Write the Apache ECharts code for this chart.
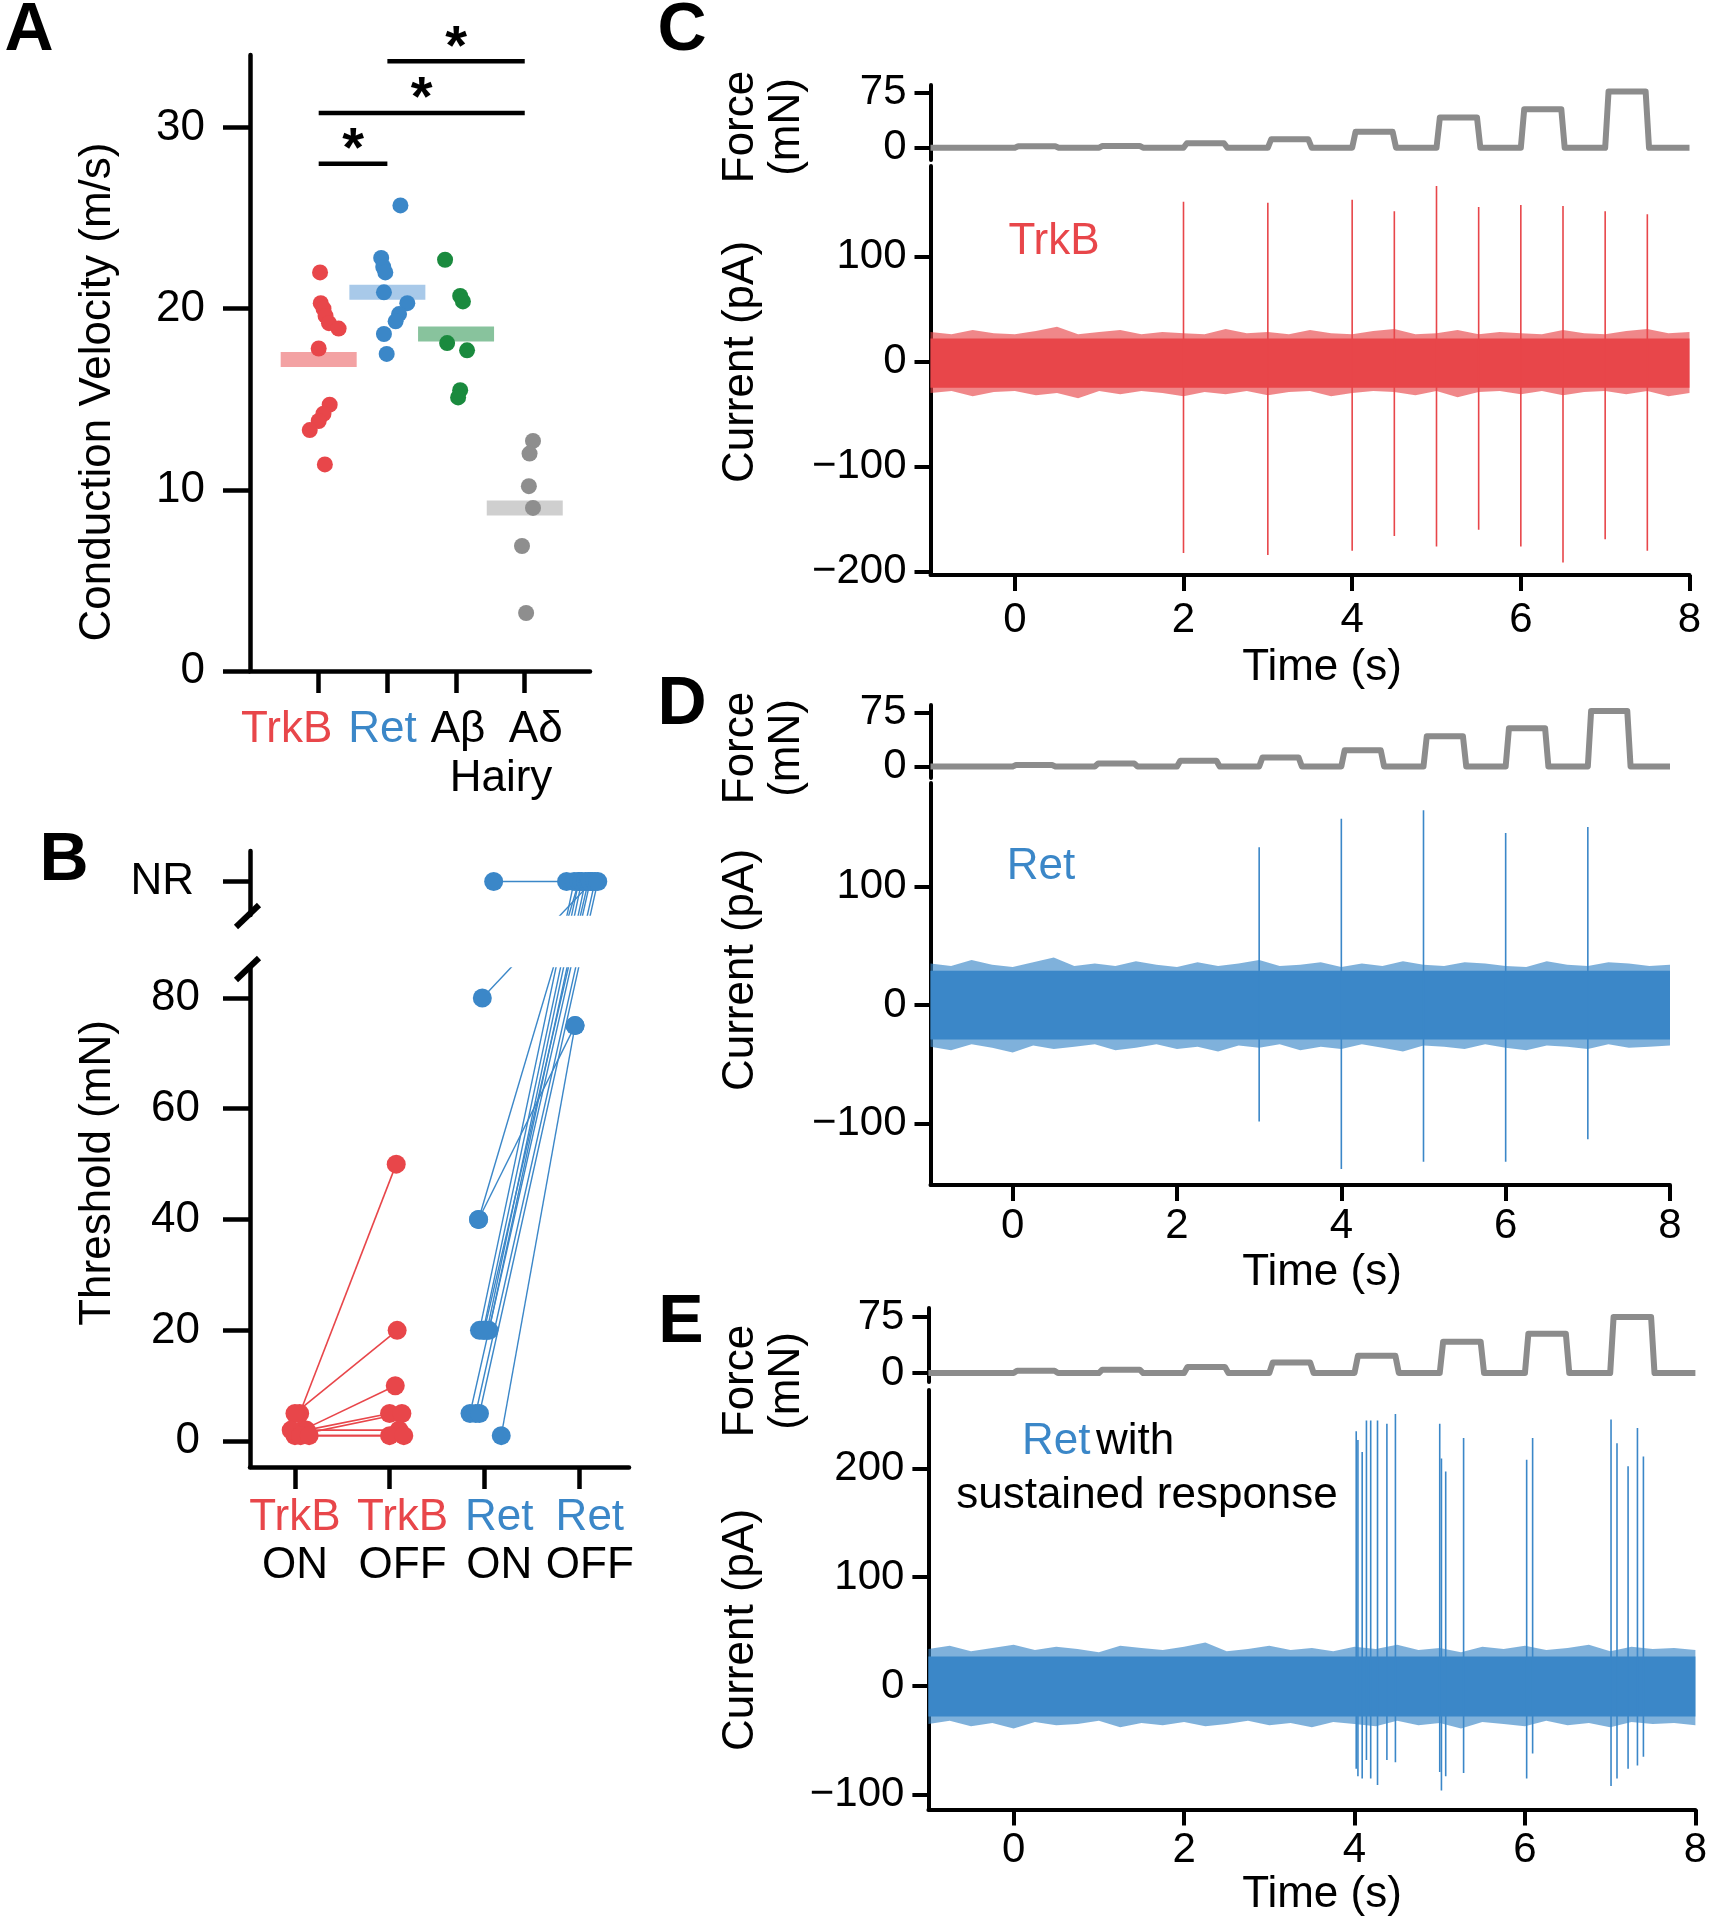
<!DOCTYPE html>
<html><head><meta charset="utf-8">
<script src="https://cdn.jsdelivr.net/npm/echarts@6/dist/echarts.min.js"></script>
<style>html,body{margin:0;padding:0;background:#fff}#c{width:1709px;height:1920px}</style>
</head><body><div id="c"></div><script>
// ================= DATA =================
// Panel A: conduction velocity (m/s)
const groupsA = ['TrkB', 'Ret', 'Aβ', 'Aδ'];
const cvTrkB = [22.0, 20.3, 20.0, 19.6, 19.2, 18.9, 17.8, 14.7, 14.2, 13.8, 13.3, 11.4];
const cvTrkBJit = [0.02, 0.03, 0.07, 0.10, 0.15, 0.29, 0.0, 0.16, 0.07, 0.0, -0.13, 0.09];
const cvRet = [25.7, 22.8, 22.3, 22.0, 20.9, 20.3, 19.7, 19.3, 18.6, 17.5];
const cvRetJit = [0.19, -0.09, -0.06, -0.03, -0.05, 0.29, 0.17, 0.12, -0.05, -0.01];
const cvAb = [22.7, 20.7, 20.4, 18.1, 17.7, 15.5, 15.1];
const cvAbJit = [-0.16, 0.06, 0.10, -0.13, 0.16, 0.06, 0.03];
const cvAd = [12.7, 12.0, 10.2, 9.0, 6.9, 3.2];
const cvAdJit = [0.12, 0.07, 0.06, 0.12, -0.04, 0.02];
const cvMeans = [17.2, 20.9, 18.6, 9.0];
const sigPairs = [[1, 2, 28.0], [1, 4, 30.8], [2, 4, 33.65]];
const cvTicks = [0, 10, 20, 30];

// Panel B: thresholds (mN); 'NR' = not responsive
const thrTop = ['TrkB', 'TrkB', 'Ret', 'Ret'];
const thrBot = ['ON', 'OFF', 'ON', 'OFF'];
const thrTicks = [0, 20, 40, 60, 80];
const NR = 101;
const trkbOn  = [5, 5, 2, 2, 1, 2, 1, 1];
const trkbOff = [50, 20, 10, 5, 5, 2, 1, 1];
const trkbOnJit  = [0.05, 0.0, 0.08, 0.12, 0.0, -0.04, 0.06, 0.15];
const trkbOffJit = [0.07, 0.08, 0.06, 0.0, 0.13, 0.1, 0.0, 0.15];
const retOn  = ['NR', 80, 40, 40, 1, 20, 20, 20, 20, 20, 5, 5, 5];
const retOff = ['NR', 'NR', 'NR', 75, 75, 'NR', 'NR', 'NR', 'NR', 'NR', 'NR', 'NR', 'NR'];
const retOnJit  = [0.1, -0.02, -0.06, -0.06, 0.18, -0.05, -0.01, 0.03, 0.05, 0.0, -0.15, -0.09, -0.05];
const retOffJit = [-0.13, 0.14, 0.0, -0.04, -0.04, -0.05, 0.0, 0.03, 0.07, 0.1, 0.12, 0.17, 0.2];

// Panels C-E: recordings
const tTicks = [0, 2, 4, 6, 8];
const stepOnsets = [0, 1, 2, 3, 4, 5, 6, 7];
const STEP_DUR = 0.48, RAMP = 0.04;
const forceC = [2, 2.5, 6, 11.5, 21.5, 41, 52, 76];
const forceD = [2, 4, 8, 12.5, 22.5, 42, 53, 77];
const forceE = [3, 4.5, 8, 14, 23, 42, 52.5, 75];
// dense noise core (lower, upper) and outer noise fringe envelope (pA)
const coreC = [-25, 22];
const coreD = [-29, 29];
const coreE = [-28, 27];
const noiseT = [-1,-0.75,-0.5,-0.25,0,0.25,0.5,0.75,1,1.25,1.5,1.75,2,2.25,2.5,2.75,3,3.25,3.5,3.75,4,4.25,4.5,4.75,5,5.25,5.5,5.75,6,6.25,6.5,6.75,7,7.25,7.5,7.75,8];
const upC = [28,26,30,27,26,29,33,26,28,30,26,28,27,26,31,27,28,26,30,27,26,29,31,26,27,30,26,28,27,26,30,27,26,29,31,27,28];
const loC = [-30,-28,-33,-29,-28,-32,-30,-35,-28,-31,-28,-30,-33,-29,-31,-28,-32,-29,-28,-33,-30,-28,-29,-32,-28,-34,-29,-28,-31,-28,-32,-29,-28,-31,-28,-33,-30];
const upD = [35,33,38,34,32,36,40,33,35,33,37,34,32,36,33,35,38,33,34,36,32,35,33,37,34,33,36,35,33,32,37,34,33,36,35,33,34];
const loD = [-35,-38,-33,-36,-40,-34,-37,-35,-33,-38,-36,-33,-37,-35,-39,-34,-36,-33,-38,-35,-37,-33,-36,-39,-34,-35,-37,-33,-36,-38,-34,-35,-37,-33,-36,-35,-34];
const upE = [34,37,32,35,38,33,36,34,31,37,35,33,36,40,32,34,37,33,35,32,36,34,38,33,35,31,36,34,37,33,35,38,32,36,34,35,33];
const loE = [-35,-32,-37,-34,-39,-33,-36,-35,-32,-38,-34,-36,-33,-37,-35,-32,-36,-34,-38,-33,-35,-37,-32,-36,-34,-39,-33,-35,-37,-32,-36,-34,-38,-33,-35,-34,-36];
const spkTC  = [2.0, 3.0, 4.0, 4.5, 5.0, 5.5, 6.0, 6.5, 7.0, 7.5];
const spkUpC = [152, 151, 154, 143, 167, 147, 149, 148, 143, 140];
const spkDnC = [-182, -184, -180, -166, -176, -160, -176, -191, -169, -180];
const spkTD  = [3.0, 4.0, 5.0, 6.0, 7.0];
const spkUpD = [133, 157, 164, 145, 150];
const spkDnD = [-98, -138, -132, -132, -113];
const spkTE  = [4.02, 4.04, 4.09, 4.14, 4.19, 4.27, 4.38, 4.48, 5.00, 5.02, 5.07, 5.28, 6.02, 6.09, 7.01, 7.08, 7.21, 7.32, 7.39];
const spkUpE = [234, 226, 215, 244, 244, 244, 241, 250, 241, 209, 197, 228, 208, 228, 245, 223, 202, 237, 211];
const spkDnE = [-76, -83, -85, -68, -85, -91, -68, -70, -79, -96, -83, -80, -85, -62, -92, -85, -76, -73, -65];

// ================= STYLE =================
const FONT = 'Liberation Sans, Arial, Helvetica, sans-serif';
const RED = '#e8464a', BLUE = '#3b87c8', GREEN = '#1a8a3e', GRAY = '#8e8e8e', FORCE = '#8c8c8c';
const meanColors = ['#f3a2a3', '#a8c9e9', '#88c39d', '#cfcfcf'];
const mm = v => String(v).replace('-', '\u2212');

const grids = [
  {left: 250, top: 55, width: 340, height: 616},      // 0 A
  {left: 250, top: 968, width: 379, height: 499},     // 1 B lower
  {left: 250, top: 851, width: 379, height: 64},      // 2 B upper (NR)
  {left: 930.5, top: 85, width: 759, height: 75},     // 3 C force
  {left: 930.5, top: 166, width: 759, height: 409},   // 4 C current
  {left: 930.5, top: 705, width: 739.5, height: 73},  // 5 D force
  {left: 930.5, top: 783, width: 739.5, height: 402}, // 6 D current
  {left: 928.4, top: 1308, width: 767, height: 74},   // 7 E force
  {left: 928.4, top: 1390, width: 767, height: 419.4} // 8 E current
].map(g => Object.assign({containLabel: false, outerBoundsMode: 'none'}, g));

function axis(grid, min, max, o) {
  o = o || {};
  const w = o.w || 4;
  return {
    type: 'value', gridIndex: grid, min: min, max: max, show: o.hidden ? false : true,
    axisLine: {show: true, onZero: false, lineStyle: {color: '#000', width: w}},
    axisTick: {show: !!o.ticks, customValues: o.ticks || [], length: o.tl || 16, inside: false, lineStyle: {color: '#000', width: w}},
    axisLabel: {show: !!o.ticks && !o.noLabel, customValues: o.ticks || [], margin: o.m || 24, fontSize: o.fs || 42, fontFamily: FONT, color: '#000',
      showMinLabel: true, showMaxLabel: true, hideOverlap: false,
      formatter: o.fmt || (v => mm(v))},
    splitLine: {show: false}
  };
}

const xAxis = [
  axis(0, 0, 4.95, {ticks: [1, 2, 3, 4], w: 4.5, tl: 22, noLabel: true}),
  axis(1, 0.525, 4.53, {ticks: [1, 2, 3, 4], w: 4.5, tl: 22, noLabel: true}),
  axis(2, 0.525, 4.53, {hidden: true}),
  axis(3, -1, 8, {hidden: true}),
  axis(4, -1, 8, {ticks: tTicks, m: 24}),
  axis(5, -1, 8, {hidden: true}),
  axis(6, -1, 8, {ticks: tTicks, m: 20}),
  axis(7, -1, 8, {hidden: true}),
  axis(8, -1, 8, {ticks: tTicks, m: 20})
];
const yAxis = [
  axis(0, 0, 34, {ticks: cvTicks, w: 4.5, tl: 27, m: 45, fs: 44}),
  axis(1, -4.66, 85.4, {ticks: thrTicks, w: 4.5, tl: 27, m: 50, fs: 44}),
  axis(2, 94.95, 106.5, {ticks: [NR], w: 4.5, tl: 27, m: 56, fs: 44, fmt: () => 'NR'}),
  axis(3, -16.6, 84.9, {ticks: [0, 75]}),
  axis(4, -203, 186, {ticks: [-200, -100, 0, 100]}),
  axis(5, -16.1, 85.4, {ticks: [0, 75]}),
  axis(6, -151.5, 187, {ticks: [-100, 0, 100]}),
  axis(7, -12, 87, {ticks: [0, 75]}),
  axis(8, -113.4, 272, {ticks: [-100, 0, 100, 200]})
];

const CLEAR = {color: 'rgba(0,0,0,0)', opacity: 1};
const series = [];
// ---- Panel A ----
series.push({type: 'scatter', xAxisIndex: 0, yAxisIndex: 0, symbol: 'rect', symbolSize: [76, 15], z: 1, silent: true,
  data: cvMeans.map((m, i) => ({value: [i + 1, m], itemStyle: {color: meanColors[i], opacity: 1}}))});
[[cvTrkB, cvTrkBJit, RED], [cvRet, cvRetJit, BLUE], [cvAb, cvAbJit, GREEN], [cvAd, cvAdJit, GRAY]].forEach(([vals, jit, col], g) => {
  series.push({type: 'scatter', xAxisIndex: 0, yAxisIndex: 0, symbolSize: 16, z: 3, silent: true,
    itemStyle: {color: col, opacity: 1}, data: vals.map((v, i) => [g + 1 + jit[i], v])});
});
sigPairs.forEach(([a, b, h]) => {
  series.push({type: 'line', xAxisIndex: 0, yAxisIndex: 0, data: [[a, h], [b, h]], symbol: 'none', clip: false, silent: true,
    lineStyle: {color: '#000', width: 4.5}});
  series.push({type: 'scatter', xAxisIndex: 0, yAxisIndex: 0, data: [[(a + b) / 2, h]], symbolSize: 1, clip: false, silent: true,
    itemStyle: CLEAR,
    label: {show: true, formatter: '*', position: 'inside', offset: [0, -13], fontSize: 56, fontWeight: 'bold', color: '#000', fontFamily: FONT}});
});
// category labels of A (placed on the axis through the scale)
const aLabCol = [RED, BLUE, '#000', '#000'];
const aLabShift = [-32, -5, 2, 11];
series.push({type: 'scatter', xAxisIndex: 0, yAxisIndex: 0, symbolSize: 0, clip: false, silent: true, z: 5,
  itemStyle: CLEAR,
  data: groupsA.map((g, i) => ({value: [i + 1, 0],
    label: {show: true, position: 'bottom', distance: 37, offset: [aLabShift[i], 0], formatter: g, color: aLabCol[i],
      fontSize: 44, fontFamily: FONT, lineHeight: 44, opacity: 1}}))});

// ---- Panel B ----
const toY = v => v === 'NR' ? NR : v;
function seg(grid, x1, y1, x2, y2, col, w) {
  return {type: 'line', xAxisIndex: grid, yAxisIndex: grid, data: [[x1, y1], [x2, y2]], symbol: 'none', clip: true, silent: true, z: 2,
    lineStyle: {color: col, width: w}};
}
trkbOn.forEach((on, i) => series.push(seg(1, 1 + trkbOnJit[i], on, 2 + trkbOffJit[i], trkbOff[i], RED, 1.6)));
retOn.forEach((on, i) => {
  const x1 = 3 + retOnJit[i], y1 = toY(on), x2 = 4 + retOffJit[i], y2 = toY(retOff[i]);
  series.push(seg(1, x1, y1, x2, y2, BLUE, 1.4));
  if (Math.max(y1, y2) > 94) series.push(seg(2, x1, y1, x2, y2, BLUE, 1.4));
});
const lowDots = (vals, jit, cat) => vals.map((v, i) => [cat + jit[i], toY(v)]).filter(p => p[1] < 90);
const nrDots = (vals, jit, cat) => vals.map((v, i) => [cat + jit[i], toY(v)]).filter(p => p[1] >= 90);
series.push({type: 'scatter', xAxisIndex: 1, yAxisIndex: 1, symbolSize: 19, z: 4, silent: true, itemStyle: {color: RED, opacity: 1},
  data: lowDots(trkbOn, trkbOnJit, 1).concat(lowDots(trkbOff, trkbOffJit, 2))});
series.push({type: 'scatter', xAxisIndex: 1, yAxisIndex: 1, symbolSize: 19, z: 4, silent: true, itemStyle: {color: BLUE, opacity: 1},
  data: lowDots(retOn, retOnJit, 3).concat(lowDots(retOff, retOffJit, 4))});
series.push({type: 'scatter', xAxisIndex: 2, yAxisIndex: 2, symbolSize: 19, z: 4, silent: true, itemStyle: {color: BLUE, opacity: 1},
  data: nrDots(retOn, retOnJit, 3).concat(nrDots(retOff, retOffJit, 4))});
// category labels of B
const bBase = {fontSize: 44, fontFamily: FONT, lineHeight: 48};
const bRich = {r: Object.assign({color: RED}, bBase), b: Object.assign({color: BLUE}, bBase), k: Object.assign({color: '#000'}, bBase)};
const thrCol = ['r', 'r', 'b', 'b'];
const thrLabShift = [0, 13, 15, 11];
series.push({type: 'scatter', xAxisIndex: 1, yAxisIndex: 1, symbolSize: 0, clip: false, silent: true, z: 5,
  itemStyle: CLEAR,
  data: thrTop.map((t, i) => ({value: [i + 1, -4.66],
    label: {show: true, position: 'bottom', distance: 27, offset: [thrLabShift[i], 0], rich: bRich, opacity: 1,
      formatter: '{' + thrCol[i] + '|' + t + '}\n{k|' + thrBot[i] + '}'}}))});

// ---- Panels C-E ----
function forcePts(amps) {
  const p = [[-1, 0]];
  stepOnsets.forEach((t, i) => { p.push([t, 0], [t + RAMP, amps[i]], [t + STEP_DUR, amps[i]], [t + STEP_DUR + RAMP, 0]); });
  p.push([8, 0]);
  return p;
}
function tracePanel(fg, cg, amps, core, up, lo, spT, spUp, spDn, col) {
  series.push({type: 'line', xAxisIndex: fg, yAxisIndex: fg, data: forcePts(amps), symbol: 'none', silent: true,
    lineStyle: {color: FORCE, width: 6, join: 'round', cap: 'butt'}});
  series.push({type: 'custom', xAxisIndex: cg, yAxisIndex: cg, silent: true, z: 2,
    data: noiseT.map((t, i) => [t, lo[i], up[i]]),
    renderItem: (params, api) => {
      if (params.dataIndex !== 0) return;
      const pts = [];
      for (let i = 0; i < noiseT.length; i++) pts.push(api.coord([noiseT[i], up[i]]));
      for (let i = noiseT.length - 1; i >= 0; i--) pts.push(api.coord([noiseT[i], lo[i]]));
      return {type: 'polygon', shape: {points: pts}, style: {fill: col, opacity: 0.65}};
    }});
  series.push({type: 'custom', xAxisIndex: cg, yAxisIndex: cg, silent: true, z: 2,
    data: [[noiseT[0], core[0], noiseT[noiseT.length - 1], core[1]]],
    renderItem: (params, api) => {
      const a = api.coord([api.value(0), api.value(3)]);
      const b = api.coord([api.value(2), api.value(1)]);
      return {type: 'rect', shape: {x: a[0], y: a[1], width: b[0] - a[0], height: b[1] - a[1]}, style: {fill: col}};
    }});
  series.push({type: 'custom', xAxisIndex: cg, yAxisIndex: cg, silent: true, z: 3,
    data: spT.map((t, i) => [t, spDn[i], spUp[i]]),
    renderItem: (params, api) => {
      const a = api.coord([api.value(0), api.value(1)]);
      const b = api.coord([api.value(0), api.value(2)]);
      return {type: 'line', shape: {x1: a[0], y1: a[1], x2: b[0], y2: b[1]}, style: {stroke: col, lineWidth: 1.6}};
    }});
}
tracePanel(3, 4, forceC, coreC, upC, loC, spkTC, spkUpC, spkDnC, RED);
tracePanel(5, 6, forceD, coreD, upD, loD, spkTD, spkUpD, spkDnD, BLUE);
tracePanel(7, 8, forceE, coreE, upE, loE, spkTE, spkUpE, spkDnE, BLUE);

// ---- text / decorations ----
function txt(text, x, y, o) {
  o = o || {};
  return {type: 'text', x: x, y: y, rotation: o.rot || 0, silent: true, z: 10,
    style: {text: text, fill: o.color || '#000', fontSize: o.fs || 44, fontFamily: FONT, fontWeight: o.bold ? 'bold' : 'normal',
      textAlign: o.align || 'center', textVerticalAlign: 'middle'}};
}
const R90 = Math.PI / 2;
const graphic = [
  txt('A', 29, 31, {fs: 68, bold: true}),
  txt('B', 64, 861, {fs: 68, bold: true}),
  txt('C', 682, 31, {fs: 68, bold: true}),
  txt('D', 682, 705, {fs: 68, bold: true}),
  txt('E', 681, 1323, {fs: 68, bold: true}),
  txt('Conduction Velocity (m/s)', 98, 392, {rot: R90}),
  txt('Hairy', 501, 779),
  txt('Threshold (mN)', 98, 1173, {rot: R90}),
  txt('Force', 741, 127, {rot: R90}), txt('(mN)', 787, 127, {rot: R90}),
  txt('Current (pA)', 741, 362, {rot: R90}),
  txt('Force', 741, 748, {rot: R90}), txt('(mN)', 787, 748, {rot: R90}),
  txt('Current (pA)', 741, 970, {rot: R90}),
  txt('Force', 741, 1381, {rot: R90}), txt('(mN)', 787, 1381, {rot: R90}),
  txt('Current (pA)', 741, 1630, {rot: R90}),
  txt('Time (s)', 1322, 668), txt('Time (s)', 1322, 1273), txt('Time (s)', 1322, 1895),
  txt('TrkB', 1054, 242, {color: RED}),
  txt('Ret', 1041, 867, {color: BLUE}),
  txt('Ret', 1022, 1442, {color: BLUE, align: 'left'}),
  txt('with', 1096, 1442, {align: 'left'}),
  txt('sustained response', 1147, 1496),
  {type: 'line', silent: true, z: 10, shape: {x1: 236, y1: 927, x2: 259, y2: 905}, style: {stroke: '#000', lineWidth: 6}},
  {type: 'line', silent: true, z: 10, shape: {x1: 236, y1: 980, x2: 259, y2: 958}, style: {stroke: '#000', lineWidth: 6}}
];

const chart = echarts.init(document.getElementById('c'), null, {renderer: 'canvas'});
chart.setOption({animation: false, backgroundColor: '#fff', grid: grids, xAxis: xAxis, yAxis: yAxis, series: series, graphic: graphic});
</script></body></html>
